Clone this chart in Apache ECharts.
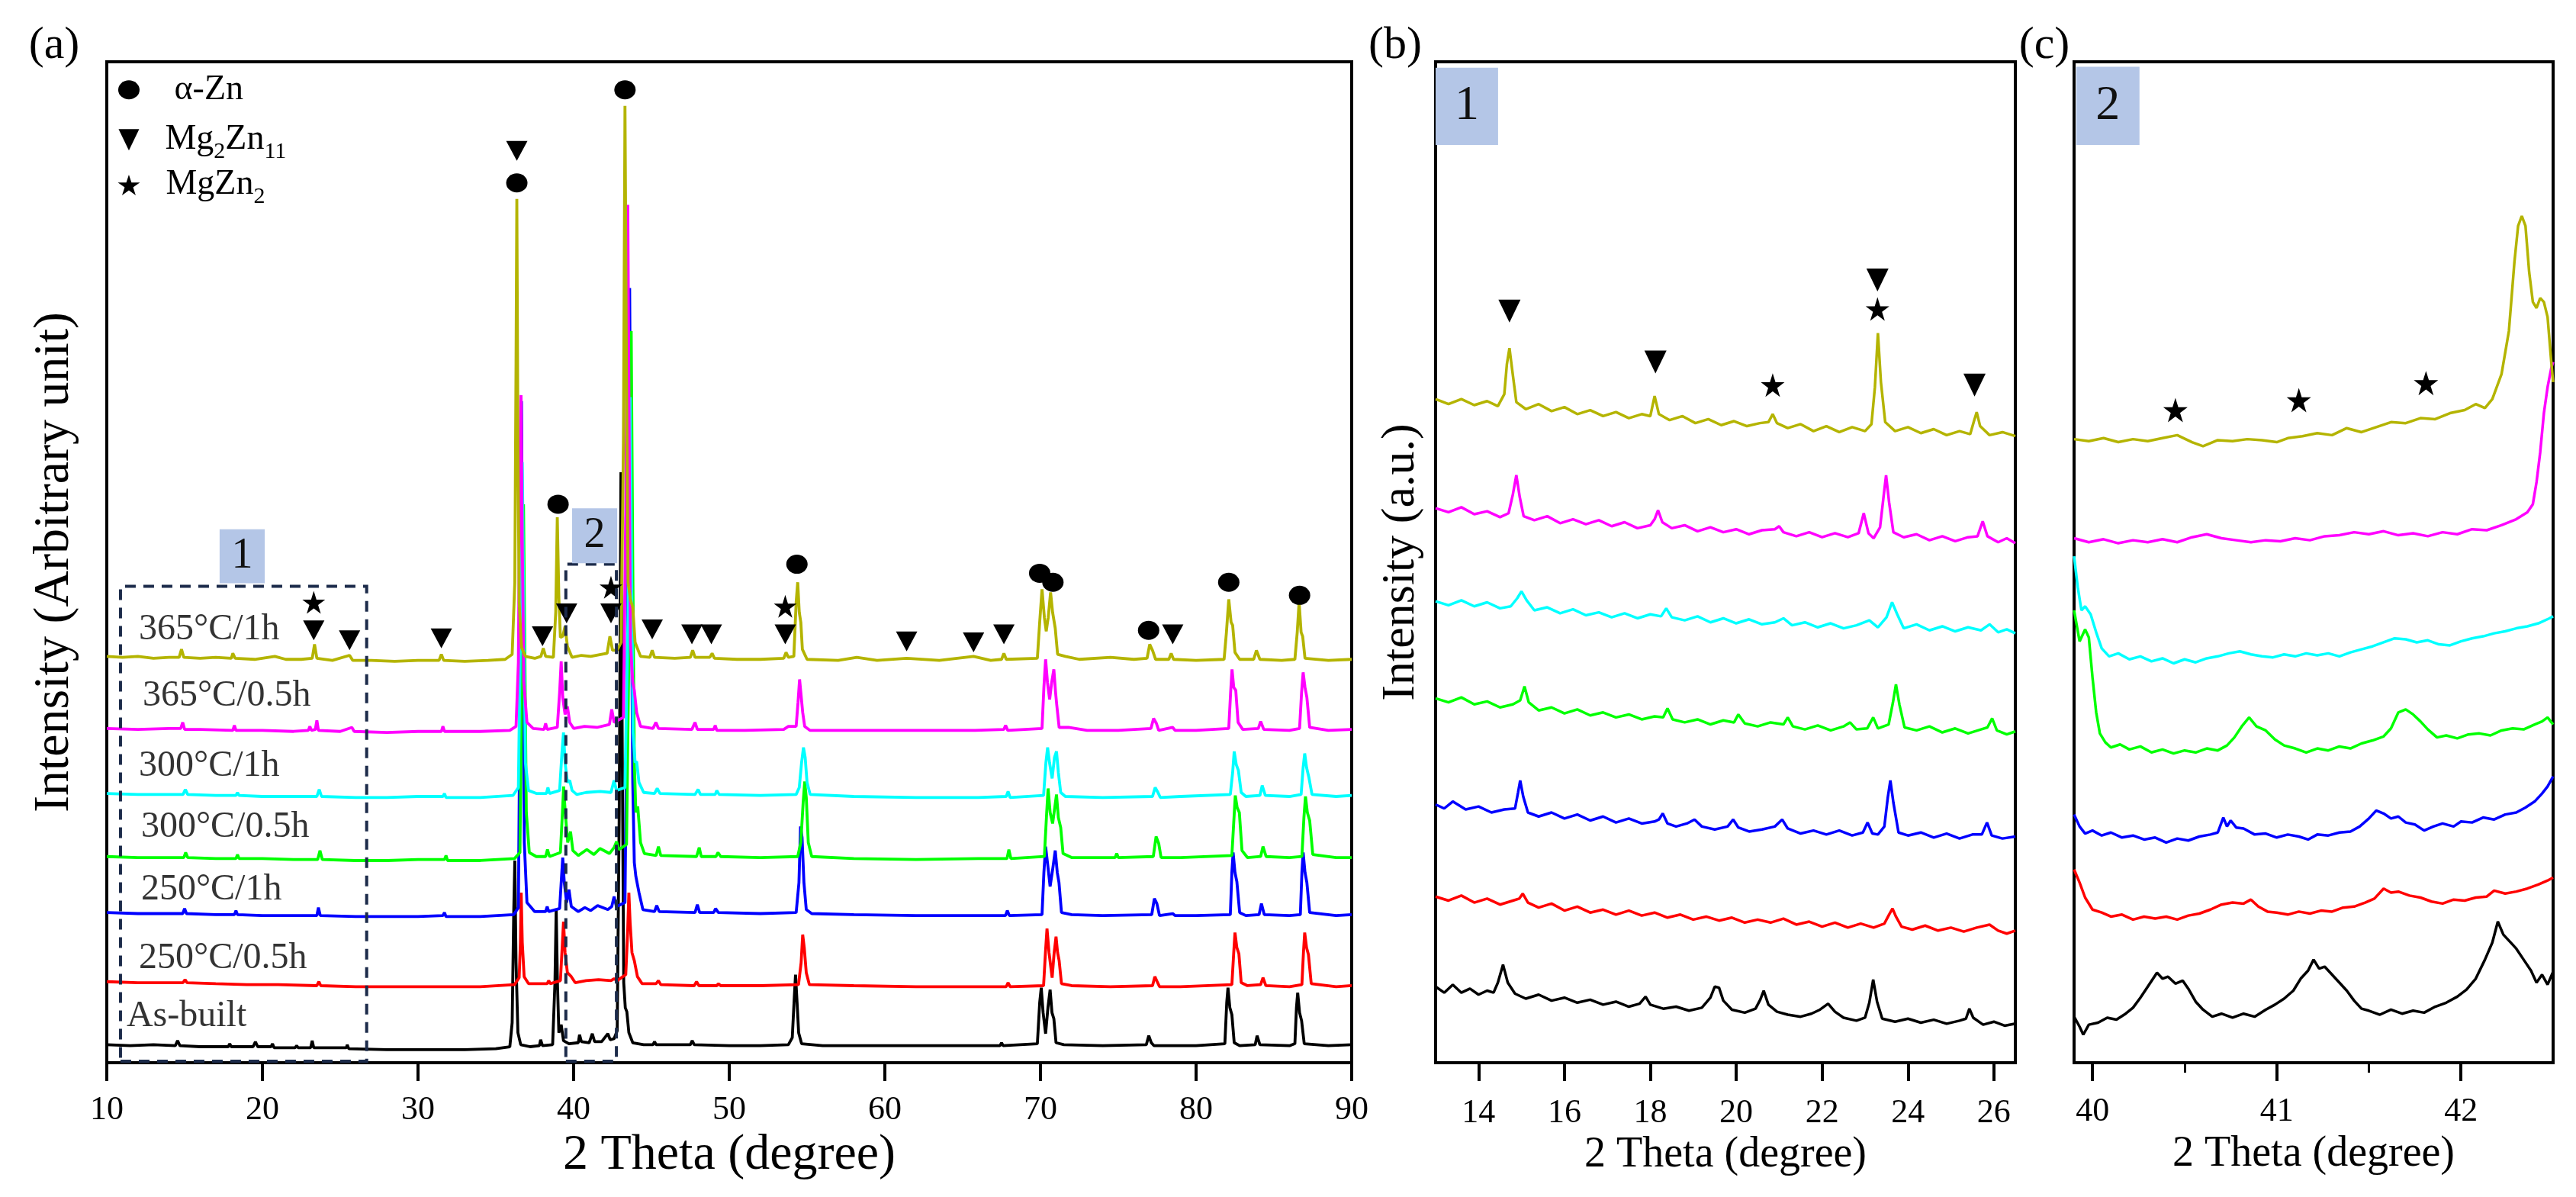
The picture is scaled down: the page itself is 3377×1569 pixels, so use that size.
<!DOCTYPE html>
<html>
<head>
<meta charset="utf-8">
<title>XRD patterns</title>
<script src="https://cdn.jsdelivr.net/npm/echarts@6.0.0/dist/echarts.min.js"></script>
<style>
html, body { margin: 0; padding: 0; background: #fff; }
#chart { width: 3377px; height: 1569px; }
</style>
</head>
<body>
<div id="chart"></div>
<script>
var FONT = '"Liberation Serif", "Times New Roman", serif';

// samples, bottom to top
var sampleNames = ['As-built', '250°C/0.5h', '250°C/1h', '300°C/0.5h', '300°C/1h', '365°C/0.5h', '365°C/1h'];
var sampleColors = ['#000000', '#ff0000', '#0000ff', '#00ff00', '#00ffff', '#ff00ff', '#b4b400'];
var sampleLabelPos = [[11.27, 4.6], [12.06, 10.4], [12.2, 17.3], [12.2, 23.5], [12.06, 29.6], [12.3, 36.6], [12.06, 43.3]];

var ticksA = [10, 20, 30, 40, 50, 60, 70, 80, 90];
var ticksB = [14, 16, 18, 20, 22, 24, 26];
var ticksC = [40, 41, 42];
var minorTicksC = [40.5, 41.5];

var phaseNames = [' α-Zn', 'Mg{s|2}Zn{s|11}', 'MgZn{s|2}'];
var legendPos = [[11.42, 97.2], [11.42, 92.2], [11.42, 87.7]];

// (a) full pattern, 2theta vs offset intensity
var blackA = [[10,1.8],[11.5,1.7],[13,1.8],[14.4,1.7],[14.55,2.2],[14.7,1.7],[16,1.6],[17.8,1.6],[17.9,1.9],[18.0,1.6],[19.4,1.6],[19.55,2.1],[19.7,1.6],[20.55,1.6],[20.65,1.9],[20.75,1.5],[22.1,1.5],[22.2,1.7],[22.3,1.5],[23.1,1.5],[23.2,2.2],[23.3,1.5],[25.4,1.5],[25.45,1.8],[25.55,1.4],[28,1.3],[31,1.3],[33,1.3],[35,1.4],[35.9,1.6],[36.05,4.0],[36.15,15.0],[36.22,20.2],[36.3,10.0],[36.42,3.0],[36.6,1.8],[37.2,1.6],[37.8,1.7],[37.88,2.3],[38.0,1.7],[38.65,1.8],[38.8,8.0],[38.88,15.4],[38.96,8.0],[39.05,3.0],[39.2,3.8],[39.35,2.2],[39.7,1.9],[40.3,2.0],[40.38,2.8],[40.5,2.1],[41.0,2.0],[41.2,2.9],[41.35,2.1],[41.8,2.1],[42.2,2.9],[42.35,2.3],[42.6,2.4],[42.8,3.2],[42.93,25.0],[43.04,59.0],[43.13,30.0],[43.22,8.0],[43.32,5.5],[43.42,5.1],[43.55,3.0],[43.8,2.0],[44.5,1.8],[45.1,1.8],[45.2,2.1],[45.3,1.8],[47.5,1.8],[47.62,2.2],[47.75,1.8],[50,1.7],[52,1.7],[53.8,1.8],[54.05,2.5],[54.18,6.5],[54.26,8.8],[54.36,6.0],[54.46,3.0],[54.65,1.9],[56,1.7],[60,1.7],[64,1.7],[67.4,1.7],[67.5,2.0],[67.6,1.7],[69.8,1.9],[69.95,6.0],[70.05,7.5],[70.17,5.0],[70.33,2.9],[70.48,5.5],[70.62,7.3],[70.74,5.0],[70.86,4.4],[71.0,2.0],[71.5,1.8],[74,1.7],[76.8,1.8],[76.96,2.7],[77.12,2.0],[77.3,1.7],[80,1.7],[81.85,1.9],[81.97,6.0],[82.05,7.5],[82.17,5.5],[82.3,4.8],[82.45,2.0],[82.8,1.7],[83.8,1.8],[83.92,2.7],[84.1,1.8],[86,1.7],[86.35,1.9],[86.45,5.5],[86.53,7.0],[86.65,5.0],[86.78,4.2],[86.95,1.9],[88.5,1.7],[90,1.8]];
var redA = [[10,8.1],[12,8.0],[14,8.0],[14.9,8.0],[15.03,8.3],[15.15,8.0],[17,7.9],[19,7.8],[21,7.8],[23.5,7.7],[23.63,8.1],[23.75,7.7],[26,7.6],[28,7.6],[30,7.6],[32,7.6],[34,7.6],[36.2,7.8],[36.5,8.5],[36.58,12.0],[36.63,17.0],[36.7,12.0],[36.82,8.6],[37.1,7.9],[38.3,7.9],[38.4,8.2],[38.5,7.9],[39.15,8.2],[39.28,12.0],[39.35,14.1],[39.45,11.0],[39.6,9.0],[39.85,8.6],[40.1,8.0],[40.8,8.2],[41.6,8.3],[42.4,8.2],[42.6,8.4],[42.8,8.2],[43.35,8.8],[43.47,13.0],[43.55,17.0],[43.63,14.0],[43.75,11.0],[43.9,10.2],[44.1,8.6],[44.4,7.9],[45.3,7.9],[45.45,8.2],[45.6,7.8],[47.75,7.7],[47.9,8.1],[48.05,7.7],[49.2,7.7],[49.3,7.9],[49.45,7.7],[52,7.7],[54.45,7.8],[54.62,10.0],[54.72,12.8],[54.82,11.5],[54.95,9.0],[55.15,7.8],[58,7.7],[62,7.6],[66,7.6],[67.8,7.6],[67.92,8.0],[68.05,7.6],[70.2,7.7],[70.32,11.0],[70.42,13.4],[70.55,11.0],[70.75,8.5],[70.88,11.0],[71.0,12.6],[71.1,11.0],[71.2,10.2],[71.35,7.9],[72,7.7],[74.5,7.6],[77.2,7.7],[77.35,8.6],[77.5,8.1],[77.65,7.6],[79,7.6],[82.3,7.8],[82.42,11.0],[82.5,13.0],[82.62,11.5],[82.75,10.9],[82.9,8.0],[83.3,7.7],[84.15,7.8],[84.3,8.5],[84.48,7.7],[86,7.6],[86.8,7.8],[86.9,11.0],[86.98,13.0],[87.1,11.5],[87.22,10.8],[87.4,7.9],[89,7.6],[90,7.7]];
var blueA = [[10,15.0],[12,14.9],[14,14.9],[14.88,14.9],[15.0,15.4],[15.12,14.9],[17,14.8],[18.2,14.8],[18.3,15.2],[18.4,14.8],[20,14.7],[22,14.7],[23.5,14.7],[23.6,15.5],[23.72,14.7],[26,14.6],[28,14.6],[30,14.6],[31.6,14.7],[31.7,15.0],[31.8,14.6],[34,14.6],[36.15,14.8],[36.45,15.5],[36.57,40.0],[36.65,66.1],[36.73,45.0],[36.83,22.0],[37.0,16.0],[37.5,15.1],[38.2,15.1],[38.3,15.6],[38.4,15.1],[39.1,15.4],[39.22,18.5],[39.3,20.5],[39.4,18.0],[39.55,16.0],[39.7,17.3],[39.85,15.6],[40.3,15.1],[40.72,15.5],[41.1,15.2],[41.54,15.7],[42.2,15.3],[42.45,15.6],[42.6,16.6],[42.75,15.6],[43.3,16.0],[43.48,45.0],[43.6,77.4],[43.7,50.0],[43.8,28.0],[43.9,20.0],[44.0,18.6],[44.2,17.0],[44.45,15.3],[45.2,15.1],[45.34,15.7],[45.5,15.1],[47.8,15.0],[47.95,15.8],[48.1,15.0],[49.0,15.0],[49.12,15.4],[49.3,15.0],[52,14.9],[54.3,15.0],[54.48,18.0],[54.58,23.6],[54.68,22.5],[54.8,18.0],[54.95,15.3],[55.3,14.9],[58,14.8],[62,14.7],[66,14.7],[67.75,14.7],[67.87,15.2],[68.0,14.7],[70.1,14.8],[70.22,19.0],[70.33,21.6],[70.45,20.0],[70.62,17.6],[70.8,19.5],[70.95,21.2],[71.08,19.0],[71.19,18.0],[71.35,15.0],[72,14.8],[74,14.7],[77.15,14.8],[77.32,16.4],[77.48,15.9],[77.65,14.7],[78.5,14.9],[78.65,14.7],[80,14.7],[82.2,14.8],[82.3,19.0],[82.38,21.0],[82.5,19.0],[82.62,18.1],[82.8,15.0],[83.2,14.7],[84.05,14.8],[84.2,15.9],[84.38,14.8],[86,14.7],[86.7,14.8],[86.8,19.0],[86.88,21.0],[87.0,19.0],[87.12,18.0],[87.3,15.0],[89,14.7],[90,14.8]];
var greenA = [[10,20.6],[12,20.5],[14,20.5],[14.95,20.5],[15.07,21.0],[15.2,20.5],[17,20.4],[18.3,20.4],[18.4,20.8],[18.5,20.4],[20,20.4],[22,20.3],[23.55,20.3],[23.7,21.2],[23.85,20.3],[26,20.2],[28,20.2],[30,20.3],[31.7,20.3],[31.8,20.7],[31.9,20.2],[34,20.2],[36.2,20.4],[36.55,21.0],[36.68,40.0],[36.78,55.8],[36.86,42.0],[36.96,25.0],[37.15,21.0],[37.6,20.6],[38.2,20.6],[38.32,21.3],[38.45,20.6],[39.15,21.0],[39.28,25.0],[39.36,27.6],[39.46,25.0],[39.62,22.0],[39.8,23.1],[39.95,21.2],[40.3,20.7],[40.85,21.3],[41.3,20.8],[41.7,21.4],[42.3,20.9],[42.6,21.5],[42.76,22.1],[42.9,21.3],[43.4,21.8],[43.58,45.0],[43.7,73.1],[43.8,50.0],[43.9,30.0],[44.0,25.0],[44.12,25.6],[44.3,22.0],[44.55,20.9],[45.3,20.7],[45.45,21.6],[45.6,20.7],[47.9,20.6],[48.07,21.5],[48.2,20.6],[49.15,20.6],[49.28,21.0],[49.45,20.6],[52,20.5],[54.4,20.6],[54.6,22.0],[54.75,26.0],[54.85,28.1],[54.95,26.5],[55.08,22.0],[55.3,20.6],[58,20.4],[62,20.3],[66,20.4],[67.85,20.4],[67.97,21.3],[68.1,20.4],[70.25,20.6],[70.4,25.0],[70.49,27.4],[70.62,25.0],[70.78,23.9],[70.92,25.5],[71.03,26.8],[71.15,24.5],[71.3,23.5],[71.45,20.9],[72,20.5],[74.8,20.5],[74.9,20.9],[75.0,20.5],[77.25,20.6],[77.43,22.6],[77.6,21.9],[77.75,20.5],[79,20.5],[82.3,20.7],[82.42,24.0],[82.52,26.7],[82.64,25.5],[82.78,25.0],[82.95,21.2],[83.3,20.5],[84.15,20.6],[84.3,21.6],[84.5,20.6],[86,20.5],[86.8,20.6],[86.93,24.5],[87.03,26.6],[87.15,25.0],[87.3,24.2],[87.5,20.8],[89,20.5],[90,20.5]];
var cyanA = [[10,26.9],[12,26.8],[14,26.8],[14.9,26.8],[15.05,27.3],[15.2,26.8],[17,26.7],[18.3,26.7],[18.4,27.0],[18.5,26.7],[20,26.6],[22,26.6],[23.5,26.6],[23.65,27.3],[23.8,26.6],[26,26.5],[28,26.5],[30,26.6],[31.6,26.6],[31.7,26.9],[31.8,26.5],[34,26.5],[36.1,26.7],[36.45,27.5],[36.6,45.0],[36.7,60.0],[36.78,48.0],[36.9,30.0],[37.1,27.2],[37.6,26.9],[38.25,26.9],[38.35,27.5],[38.45,26.9],[39.1,27.2],[39.25,31.0],[39.35,33.0],[39.45,30.0],[39.6,28.0],[39.75,28.2],[39.9,27.2],[40.2,26.8],[40.8,27.0],[41.7,27.1],[42.4,27.0],[42.6,28.2],[42.75,27.2],[43.3,27.5],[43.5,45.0],[43.63,66.5],[43.72,50.0],[43.82,33.0],[43.95,30.0],[44.05,30.1],[44.2,28.0],[44.5,27.0],[45.2,26.9],[45.37,27.4],[45.55,26.9],[47.8,26.8],[48.0,27.3],[48.15,26.8],[49.1,26.8],[49.2,27.2],[49.35,26.8],[52,26.7],[54.3,26.8],[54.5,27.5],[54.65,30.0],[54.77,31.5],[54.88,30.5],[55.0,28.0],[55.2,26.8],[58,26.6],[62,26.5],[66,26.5],[67.8,26.6],[67.92,27.1],[68.05,26.5],[70.2,26.7],[70.35,30.0],[70.46,31.5],[70.58,30.0],[70.75,28.4],[70.9,30.5],[71.03,31.1],[71.15,29.0],[71.3,27.0],[71.6,26.6],[74,26.5],[77.2,26.6],[77.37,27.5],[77.55,27.0],[77.7,26.5],[79,26.6],[82.2,26.8],[82.35,29.0],[82.45,31.1],[82.58,29.8],[82.72,29.2],[82.9,27.0],[83.2,26.6],[84.1,26.7],[84.25,27.7],[84.45,26.7],[86,26.6],[86.75,26.8],[86.88,29.5],[86.98,30.9],[87.1,29.5],[87.25,28.5],[87.45,26.8],[89,26.6],[90,26.7]];
var magentaA = [[10,33.4],[12,33.3],[14,33.4],[14.75,33.4],[14.88,34.0],[15.0,33.3],[16,33.3],[18.1,33.2],[18.2,33.7],[18.3,33.2],[20,33.2],[22,33.1],[22.95,33.2],[23.05,33.6],[23.15,33.2],[23.4,33.3],[23.5,34.2],[23.6,33.2],[25,33.1],[25.75,33.5],[25.9,33.1],[28,33.0],[30,33.1],[31.5,33.1],[31.6,33.6],[31.7,33.1],[34,33.1],[35.9,33.2],[36.3,33.6],[36.45,40.0],[36.55,60.0],[36.62,66.7],[36.7,52.0],[36.8,38.0],[37.0,34.0],[37.4,33.4],[38.1,33.3],[38.2,33.9],[38.3,33.3],[38.95,33.5],[39.1,37.0],[39.2,40.1],[39.3,36.5],[39.45,34.8],[39.6,35.6],[39.75,34.0],[40.0,33.4],[40.7,33.6],[41.5,33.5],[42.3,33.8],[42.45,35.3],[42.6,34.0],[43.2,34.5],[43.35,55.0],[43.48,85.7],[43.56,65.0],[43.65,42.0],[43.8,38.0],[43.9,37.2],[44.05,35.0],[44.3,33.6],[45.1,33.4],[45.29,34.0],[45.45,33.4],[47.6,33.3],[47.8,34.0],[47.95,33.3],[49.0,33.3],[49.1,33.7],[49.2,33.2],[51,33.2],[53.5,33.3],[53.8,33.6],[54.3,33.6],[54.42,36.0],[54.52,38.3],[54.6,37.0],[54.72,35.0],[54.85,33.6],[55.2,33.2],[58,33.2],[61.5,33.2],[65.8,33.2],[67.65,33.3],[67.76,33.7],[67.9,33.2],[70.1,33.4],[70.22,37.5],[70.33,40.3],[70.45,38.0],[70.59,36.3],[70.72,38.0],[70.86,39.3],[70.97,37.0],[71.05,35.7],[71.2,33.5],[71.8,33.5],[73,33.2],[75,33.2],[77.1,33.4],[77.27,34.4],[77.45,33.9],[77.6,33.2],[78.5,33.5],[78.65,33.2],[80,33.2],[82.1,33.4],[82.22,37.0],[82.31,39.3],[82.42,37.5],[82.55,37.2],[82.7,34.0],[83.0,33.3],[84.0,33.4],[84.15,34.1],[84.35,33.3],[86,33.2],[86.65,33.4],[86.78,37.0],[86.88,39.0],[87.0,37.5],[87.12,36.5],[87.3,33.5],[88.5,33.2],[90,33.3]];
var yellowA = [[10,40.6],[11,40.5],[12,40.6],[13,40.4],[14,40.5],[14.65,40.5],[14.8,41.3],[14.95,40.5],[16,40.4],[17,40.5],[18,40.4],[18.1,40.9],[18.25,40.4],[19.5,40.3],[20.8,40.6],[21.5,40.3],[22.5,40.3],[23.2,40.4],[23.35,41.8],[23.5,40.4],[24.5,40.2],[25.6,40.7],[25.8,40.2],[27,40.2],[28.5,40.1],[30,40.2],[31.35,40.2],[31.5,40.8],[31.65,40.2],[33,40.1],[34.5,40.2],[35.6,40.3],[36.05,40.8],[36.22,48.0],[36.3,70.0],[36.35,86.3],[36.42,62.0],[36.5,46.0],[36.65,41.5],[36.9,40.6],[37.5,40.4],[37.9,40.6],[38.05,41.4],[38.2,40.6],[38.7,40.5],[38.85,45.0],[38.95,54.5],[39.05,46.5],[39.15,42.5],[39.3,42.6],[39.45,43.6],[39.6,41.6],[39.9,40.5],[40.5,40.7],[41.1,40.6],[41.8,40.8],[42.15,40.9],[42.33,42.6],[42.5,41.2],[42.8,41.2],[43.05,42.0],[43.2,62.0],[43.3,95.6],[43.4,68.0],[43.5,48.0],[43.65,46.3],[43.8,45.5],[43.95,42.0],[44.3,40.6],[44.9,40.5],[45.05,41.2],[45.2,40.5],[46.5,40.4],[47.5,40.5],[47.65,41.2],[47.8,40.5],[48.75,40.5],[48.9,40.9],[49.05,40.4],[50.5,40.3],[52,40.3],[53.5,40.4],[53.65,41.0],[53.8,40.5],[54.15,40.6],[54.3,46.0],[54.4,48.0],[54.5,45.0],[54.6,44.0],[54.7,41.3],[55.0,40.3],[57,40.2],[58.2,40.5],[59.5,40.2],[61.4,40.4],[63.5,40.2],[65.7,40.6],[66.8,40.2],[67.5,40.3],[67.65,40.9],[67.8,40.3],[69.8,40.4],[69.95,44.0],[70.1,47.3],[70.25,44.5],[70.37,43.1],[70.5,44.5],[70.65,47.0],[70.78,45.0],[70.95,43.4],[71.1,40.8],[71.6,40.6],[72.5,40.3],[74.5,40.5],[76,40.3],[76.85,40.4],[77.02,41.8],[77.2,41.2],[77.4,40.3],[78.25,40.3],[78.4,40.9],[78.55,40.3],[80,40.2],[81.8,40.3],[81.95,43.0],[82.1,46.3],[82.25,44.0],[82.35,43.7],[82.5,41.0],[82.8,40.3],[83.7,40.3],[83.88,41.2],[84.1,40.3],[85.5,40.2],[86.35,40.3],[86.5,43.0],[86.62,46.0],[86.75,43.0],[86.85,42.6],[87.0,40.4],[88.5,40.2],[90,40.3]];

// (b) zoom 13-26.5 deg
var blackB = [[13.0,7.6],[13.2,7.0],[13.4,7.8],[13.6,7.0],[13.8,7.4],[14.0,6.8],[14.2,7.2],[14.35,7.0],[14.45,8.0],[14.57,9.8],[14.68,8.0],[14.85,6.9],[15.1,6.4],[15.4,6.8],[15.7,6.2],[16.0,6.5],[16.3,6.0],[16.6,6.3],[16.9,5.8],[17.2,6.1],[17.5,5.6],[17.75,5.9],[17.89,6.6],[18.0,5.8],[18.3,5.4],[18.6,5.6],[18.9,5.2],[19.2,5.5],[19.4,6.5],[19.5,7.6],[19.6,7.5],[19.7,6.2],[19.9,5.3],[20.2,5.0],[20.45,5.4],[20.56,6.3],[20.64,7.2],[20.75,5.8],[20.95,5.1],[21.2,4.8],[21.5,4.6],[21.75,4.9],[21.95,5.3],[22.14,5.9],[22.3,5.1],[22.5,4.5],[22.8,4.2],[23.0,4.5],[23.1,6.0],[23.19,8.3],[23.28,6.1],[23.4,4.4],[23.7,4.1],[24.0,4.4],[24.3,4.0],[24.6,4.3],[24.9,3.9],[25.2,4.2],[25.35,4.4],[25.43,5.4],[25.52,4.5],[25.75,3.8],[26.0,4.1],[26.25,3.7],[26.5,3.9]];
var redB = [[13.0,16.6],[13.3,16.2],[13.6,16.7],[13.9,16.0],[14.2,16.4],[14.5,15.8],[14.8,16.2],[14.95,16.4],[15.03,16.9],[15.15,16.0],[15.4,15.5],[15.7,15.9],[16.0,15.2],[16.3,15.6],[16.6,15.0],[16.9,15.3],[17.2,14.8],[17.5,15.2],[17.8,14.7],[18.1,15.0],[18.4,14.5],[18.7,14.8],[19.0,14.3],[19.3,14.6],[19.6,14.2],[19.9,14.5],[20.2,14.0],[20.5,14.3],[20.8,14.0],[21.1,14.4],[21.4,13.8],[21.7,14.1],[22.0,13.6],[22.3,14.0],[22.6,13.5],[22.9,13.9],[23.2,13.5],[23.45,13.9],[23.56,14.8],[23.64,15.4],[23.72,14.6],[23.85,13.6],[24.1,13.3],[24.4,13.7],[24.7,13.2],[25.0,13.5],[25.3,13.1],[25.6,13.5],[25.9,13.8],[26.1,13.2],[26.3,12.9],[26.5,13.2]];
var blueB = [[13.0,25.8],[13.2,25.4],[13.4,26.1],[13.7,25.3],[14.0,25.6],[14.3,25.0],[14.6,25.3],[14.85,25.4],[14.92,27.0],[14.97,28.2],[15.04,26.6],[15.15,25.0],[15.4,24.6],[15.7,25.0],[16.0,24.4],[16.3,24.8],[16.6,24.2],[16.9,24.6],[17.2,24.0],[17.5,24.4],[17.8,23.9],[18.1,24.1],[18.2,24.3],[18.29,24.9],[18.4,23.9],[18.6,23.6],[18.85,23.9],[19.03,24.3],[19.2,23.6],[19.5,23.3],[19.8,23.6],[19.93,24.3],[20.05,23.5],[20.3,23.1],[20.6,23.3],[20.9,23.6],[21.07,24.3],[21.2,23.4],[21.5,22.9],[21.8,23.2],[22.1,22.8],[22.4,23.2],[22.7,22.7],[22.95,23.0],[23.06,24.0],[23.17,22.9],[23.3,22.8],[23.45,23.6],[23.53,26.5],[23.59,28.2],[23.66,26.0],[23.78,23.0],[24.0,22.7],[24.3,23.0],[24.6,22.5],[24.9,22.9],[25.2,22.4],[25.5,22.8],[25.72,22.8],[25.84,24.0],[25.95,22.7],[26.2,22.4],[26.5,22.6]];
var greenB = [[13.0,36.4],[13.3,36.0],[13.6,36.5],[13.9,35.8],[14.2,36.1],[14.5,35.5],[14.8,35.8],[14.97,36.2],[15.07,37.6],[15.17,36.0],[15.4,35.2],[15.7,35.5],[16.0,34.9],[16.3,35.3],[16.6,34.7],[16.9,35.0],[17.2,34.5],[17.5,34.8],[17.8,34.3],[18.1,34.6],[18.3,34.5],[18.4,35.4],[18.52,34.3],[18.8,34.0],[19.1,34.3],[19.4,33.8],[19.7,34.2],[19.95,34.0],[20.05,34.8],[20.2,33.9],[20.5,33.6],[20.8,34.0],[21.1,33.8],[21.2,34.5],[21.32,33.6],[21.6,33.3],[21.9,33.7],[22.2,33.2],[22.5,33.6],[22.65,34.0],[22.8,33.3],[23.05,33.4],[23.19,34.5],[23.3,33.4],[23.55,33.8],[23.65,36.0],[23.72,37.8],[23.8,35.8],[23.92,33.5],[24.2,33.2],[24.5,33.6],[24.8,33.0],[25.1,33.4],[25.4,32.9],[25.7,33.3],[25.85,33.5],[25.96,34.4],[26.07,33.2],[26.3,32.8],[26.5,33.1]];
var cyanB = [[13.0,46.1],[13.3,45.7],[13.6,46.2],[13.9,45.6],[14.2,46.0],[14.5,45.4],[14.75,45.6],[14.9,46.4],[15.0,47.1],[15.12,46.2],[15.3,45.2],[15.6,45.5],[15.9,44.9],[16.2,45.3],[16.5,44.7],[16.8,45.0],[17.1,44.5],[17.4,44.9],[17.7,44.4],[18.0,44.8],[18.25,44.6],[18.37,45.4],[18.5,44.5],[18.8,44.2],[19.1,44.6],[19.4,44.0],[19.7,44.4],[20.0,43.9],[20.3,44.3],[20.6,43.8],[20.9,44.0],[21.1,44.4],[21.3,43.7],[21.6,44.0],[21.9,43.5],[22.2,43.9],[22.5,43.4],[22.8,43.7],[23.1,44.2],[23.3,43.5],[23.5,44.5],[23.63,46.0],[23.75,44.8],[23.9,43.4],[24.2,43.8],[24.5,43.2],[24.8,43.6],[25.1,43.1],[25.4,43.5],[25.7,43.2],[25.9,43.8],[26.1,43.0],[26.3,43.3],[26.5,42.9]];
var magentaB = [[13.0,55.4],[13.3,55.0],[13.6,55.5],[13.9,54.8],[14.2,55.1],[14.5,54.5],[14.7,54.9],[14.8,56.8],[14.88,58.7],[14.96,56.5],[15.05,54.6],[15.3,54.2],[15.6,54.6],[15.9,53.9],[16.2,54.3],[16.5,53.8],[16.8,54.2],[17.1,53.6],[17.4,54.0],[17.7,53.4],[18.0,53.7],[18.1,54.3],[18.18,55.2],[18.28,54.0],[18.5,53.4],[18.8,53.7],[19.1,53.1],[19.4,53.5],[19.7,53.0],[20.0,53.3],[20.3,52.8],[20.6,53.2],[20.9,53.3],[21.0,53.6],[21.1,53.0],[21.4,52.6],[21.7,53.0],[22.0,52.5],[22.3,52.9],[22.6,52.5],[22.85,52.9],[22.97,54.9],[23.08,52.9],[23.2,52.4],[23.35,53.5],[23.43,56.5],[23.49,58.7],[23.56,56.0],[23.66,53.0],[23.9,52.5],[24.2,52.8],[24.5,52.2],[24.8,52.6],[25.1,52.1],[25.4,52.5],[25.62,52.6],[25.74,54.1],[25.85,52.6],[26.1,52.0],[26.3,52.4],[26.5,51.9]];
var yellowB = [[13.0,66.3],[13.3,65.8],[13.6,66.3],[13.9,65.7],[14.2,66.1],[14.45,65.6],[14.6,66.8],[14.66,69.8],[14.72,71.4],[14.79,69.0],[14.88,66.0],[15.1,65.3],[15.4,65.8],[15.7,65.1],[16.0,65.5],[16.3,64.8],[16.6,65.2],[16.9,64.6],[17.2,65.0],[17.5,64.4],[17.8,64.8],[18.0,64.6],[18.1,66.6],[18.2,64.8],[18.45,64.2],[18.75,64.6],[19.05,63.9],[19.35,64.3],[19.65,63.7],[19.95,64.1],[20.25,63.6],[20.55,63.9],[20.75,64.0],[20.85,64.8],[20.95,63.9],[21.2,63.4],[21.5,63.8],[21.8,63.1],[22.1,63.6],[22.4,63.0],[22.7,63.5],[23.0,63.1],[23.15,63.8],[23.23,67.5],[23.3,72.9],[23.37,68.0],[23.47,64.0],[23.7,63.1],[24.0,63.5],[24.3,62.9],[24.6,63.3],[24.9,62.7],[25.2,63.1],[25.45,62.8],[25.53,64.0],[25.6,65.0],[25.68,63.6],[25.9,62.7],[26.2,63.0],[26.5,62.6]];

// (c) zoom 39.9-42.5 deg
var blackC = [[39.9,4.6],[39.93,3.6],[39.95,2.8],[39.98,3.8],[40.03,4.0],[40.08,4.5],[40.13,4.3],[40.18,4.9],[40.22,5.5],[40.26,6.5],[40.3,7.6],[40.35,9.0],[40.38,8.4],[40.41,8.6],[40.45,7.9],[40.49,8.2],[40.52,7.4],[40.56,6.1],[40.6,5.3],[40.65,4.6],[40.7,4.9],[40.76,4.5],[40.82,4.9],[40.88,4.6],[40.94,5.3],[40.99,5.8],[41.04,6.4],[41.09,7.2],[41.13,8.4],[41.17,9.2],[41.2,10.3],[41.23,9.4],[41.26,9.6],[41.3,8.8],[41.34,8.0],[41.38,7.2],[41.42,6.2],[41.46,5.4],[41.5,5.2],[41.56,4.8],[41.62,5.3],[41.68,4.9],[41.74,5.2],[41.8,5.0],[41.86,5.6],[41.92,6.0],[41.98,6.6],[42.03,7.3],[42.08,8.4],[42.13,10.3],[42.17,12.0],[42.2,14.1],[42.23,12.8],[42.26,12.2],[42.3,11.4],[42.34,10.3],[42.38,9.2],[42.41,8.0],[42.44,8.8],[42.47,7.8],[42.5,9.1]];
var redC = [[39.9,19.3],[39.93,18.0],[39.96,16.5],[40.0,15.3],[40.05,15.0],[40.1,14.6],[40.16,14.8],[40.22,14.3],[40.28,14.6],[40.34,14.4],[40.4,14.6],[40.46,14.3],[40.52,14.7],[40.58,14.9],[40.64,15.3],[40.7,15.8],[40.76,16.0],[40.82,15.9],[40.86,16.3],[40.9,15.6],[40.95,15.1],[41.0,15.0],[41.06,14.8],[41.12,15.1],[41.18,14.9],[41.24,15.2],[41.3,15.1],[41.36,15.5],[41.42,15.6],[41.48,16.0],[41.53,16.4],[41.58,17.4],[41.62,17.0],[41.66,17.1],[41.72,16.7],[41.78,16.5],[41.84,16.1],[41.9,15.9],[41.96,16.3],[42.02,16.2],[42.08,16.5],[42.14,16.6],[42.18,17.2],[42.24,16.9],[42.3,17.1],[42.36,17.4],[42.42,17.8],[42.47,18.2],[42.5,18.5]];
var blueC = [[39.9,24.8],[39.93,23.6],[39.96,22.9],[40.0,23.2],[40.05,22.7],[40.1,23.0],[40.16,22.5],[40.22,22.7],[40.28,22.3],[40.34,22.5],[40.4,22.0],[40.46,22.4],[40.52,22.2],[40.58,22.6],[40.64,22.8],[40.68,23.0],[40.71,24.5],[40.73,23.6],[40.75,24.2],[40.78,23.5],[40.82,23.4],[40.88,22.8],[40.94,22.9],[41.0,22.5],[41.06,22.8],[41.12,22.6],[41.17,22.3],[41.22,22.8],[41.28,22.7],[41.34,23.0],[41.4,23.1],[41.45,23.6],[41.5,24.4],[41.54,25.2],[41.58,24.9],[41.62,24.4],[41.66,24.6],[41.7,24.0],[41.75,23.8],[41.8,23.2],[41.85,23.6],[41.9,23.9],[41.96,23.6],[42.0,24.1],[42.06,24.0],[42.12,24.5],[42.18,24.3],[42.24,24.8],[42.3,25.0],[42.35,25.5],[42.4,26.1],[42.44,26.9],[42.47,27.6],[42.5,28.6]];
var greenC = [[39.9,45.2],[39.93,42.1],[39.96,43.3],[39.98,42.5],[40.0,38.5],[40.02,35.0],[40.04,32.9],[40.07,32.0],[40.1,31.5],[40.15,31.8],[40.2,31.3],[40.26,31.6],[40.32,31.0],[40.38,31.3],[40.44,30.9],[40.5,31.2],[40.56,31.0],[40.62,31.4],[40.68,31.2],[40.73,31.7],[40.77,32.5],[40.81,33.6],[40.85,34.5],[40.89,33.6],[40.94,33.2],[40.99,32.3],[41.04,31.7],[41.1,31.4],[41.16,31.0],[41.22,31.4],[41.28,31.2],[41.34,31.6],[41.4,31.4],[41.46,31.9],[41.52,32.2],[41.58,32.6],[41.62,33.4],[41.66,35.0],[41.7,35.3],[41.74,34.8],[41.78,34.1],[41.82,33.3],[41.87,32.5],[41.92,32.7],[41.98,32.4],[42.04,32.8],[42.1,32.9],[42.16,32.7],[42.22,33.2],[42.28,33.4],[42.34,33.3],[42.4,33.8],[42.44,34.1],[42.47,34.5],[42.5,33.8]];
var cyanC = [[39.9,50.6],[39.92,47.5],[39.94,45.2],[39.96,45.6],[39.99,44.8],[40.02,43.0],[40.05,41.4],[40.09,40.6],[40.14,40.9],[40.2,40.3],[40.26,40.6],[40.32,40.1],[40.38,40.4],[40.44,39.9],[40.5,40.3],[40.56,40.0],[40.62,40.4],[40.68,40.6],[40.74,40.9],[40.8,41.1],[40.86,40.8],[40.92,40.6],[40.98,40.5],[41.04,40.8],[41.1,40.6],[41.16,40.9],[41.22,40.7],[41.28,40.9],[41.34,40.6],[41.4,41.0],[41.46,41.3],[41.52,41.6],[41.58,42.0],[41.64,42.4],[41.7,42.3],[41.76,42.0],[41.82,42.2],[41.88,41.8],[41.94,41.7],[42.0,42.1],[42.06,42.4],[42.12,42.6],[42.18,42.9],[42.24,43.1],[42.3,43.4],[42.36,43.6],[42.42,43.9],[42.48,44.4],[42.5,44.6]];
var magentaC = [[39.9,52.4],[39.98,52.0],[40.06,52.3],[40.14,51.9],[40.22,52.2],[40.3,52.0],[40.38,52.3],[40.46,52.0],[40.54,52.5],[40.62,52.8],[40.7,52.4],[40.78,52.2],[40.86,52.0],[40.94,52.2],[41.02,52.1],[41.1,52.4],[41.18,52.2],[41.26,52.6],[41.34,52.7],[41.42,53.0],[41.5,52.8],[41.58,53.1],[41.66,52.7],[41.74,52.9],[41.82,52.6],[41.9,53.0],[41.98,52.8],[42.06,53.3],[42.14,53.2],[42.22,53.7],[42.3,54.3],[42.36,55.0],[42.39,55.8],[42.41,58.0],[42.43,61.0],[42.45,64.9],[42.47,67.5],[42.49,69.4],[42.5,70.0]];
var yellowC = [[39.9,62.3],[39.98,62.1],[40.06,62.4],[40.14,62.0],[40.22,62.3],[40.3,62.1],[40.38,62.4],[40.46,62.7],[40.54,62.0],[40.6,61.6],[40.68,62.2],[40.76,62.1],[40.84,62.3],[40.92,62.2],[41.0,62.0],[41.06,62.4],[41.14,62.6],[41.22,62.9],[41.3,62.7],[41.38,63.4],[41.46,63.0],[41.54,63.5],[41.62,64.0],[41.7,63.9],[41.78,64.4],[41.86,64.3],[41.94,64.9],[42.02,65.2],[42.08,65.8],[42.13,65.4],[42.17,66.3],[42.22,68.8],[42.26,73.1],[42.29,80.0],[42.31,83.6],[42.33,84.6],[42.35,83.6],[42.37,79.0],[42.39,76.0],[42.41,75.4],[42.43,76.4],[42.45,76.0],[42.47,74.5],[42.49,70.0],[42.5,68.0]];

// phase markers [2theta, height]
var znMarksA = [[36.35,87.9],[39.0,55.8],[43.3,97.2],[54.35,49.8],[69.95,48.9],[70.8,48.0],[76.95,43.2],[82.1,48.0],[86.65,46.7]];
var mg2zn11MarksA = [[23.3,43.2],[25.6,42.2],[31.5,42.4],[36.35,91.1],[38.0,42.6],[39.55,44.9],[42.4,44.9],[45.05,43.3],[47.6,42.8],[48.85,42.8],[53.6,42.8],[61.4,42.1],[65.7,42.0],[67.65,42.8],[78.5,42.8]];
var mgzn2MarksA = [[23.3,46.0],[42.4,47.5],[53.6,45.6]];
var mg2zn11MarksB = [[14.72,75.1],[18.12,70.0],[23.29,78.2],[25.55,67.7]];
var mgzn2MarksB = [[20.85,67.7],[23.29,75.3]];
var mgzn2MarksC = [[40.45,65.2],[41.12,66.2],[41.81,67.9]];

// zoom windows drawn in (a), and their tags
var zoomBoxes = [[[10.88, 0.15], [26.7, 47.6]], [[39.5, 0.15], [42.75, 49.8]]];
var zoomTagsA = [['1', [17.25, 47.9], [20.15, 53.3]], ['2', [39.9, 49.9], [42.8, 55.4]]];
var zoomTagB = ['1', [13.0, 91.7], [14.455, 99.4]];
var zoomTagC = ['2', [39.912, 91.7], [40.255, 99.5]];

var chartDom = document.getElementById('chart');
var myChart = echarts.init(chartDom);
var option;

var STAR = 'path://M50,0L61.2,34.5L97.6,34.5L68.2,55.9L79.4,90.5L50,69.1L20.6,90.5L31.8,55.9L2.4,34.5L38.8,34.5Z';
var TAG_BLUE = '#b4c6e7';

function xAxisBase(grid, min, max) {
  return {
    type: 'value', gridIndex: grid, min: min, max: max, position: 'bottom',
    splitLine: { show: false },
    axisLine: { show: true, onZero: false, lineStyle: { color: '#000', width: 4 } },
    axisTick: { show: true, inside: false, length: 24, lineStyle: { color: '#000', width: 4 } },
    axisLabel: { color: '#000', fontSize: 44, fontFamily: FONT, margin: 40 },
    nameLocation: 'middle',
    nameTextStyle: { color: '#000', fontFamily: FONT }
  };
}
function yAxisBase(grid) {
  return {
    type: 'value', gridIndex: grid, min: 0, max: 100, position: 'left',
    splitLine: { show: false },
    axisLine: { show: true, lineStyle: { color: '#000', width: 4 } },
    axisTick: { show: false }, axisLabel: { show: false },
    nameLocation: 'middle',
    nameTextStyle: { color: '#000', fontFamily: FONT }
  };
}
function lineSeries(data, color, axis, width) {
  return {
    type: 'line', xAxisIndex: axis, yAxisIndex: axis, data: data,
    showSymbol: false, symbol: 'none', silent: true, z: 2,
    lineStyle: { color: color, width: width }
  };
}
function markSeries(data, axis, symbol, size, rotate) {
  return {
    type: 'scatter', xAxisIndex: axis, yAxisIndex: axis, data: data,
    symbol: symbol, symbolSize: size, symbolRotate: rotate || 0, silent: true, z: 6,
    itemStyle: { color: '#000', opacity: 1 }
  };
}
function tagArea(tag) {
  return [{ coord: tag[1], name: tag[0] }, { coord: tag[2] }];
}

var xA = xAxisBase(0, 10, 90);
xA.interval = 10;
xA.name = '2 Theta (degree)';
xA.nameGap = 78;
xA.nameTextStyle.fontSize = 66;

var xB = xAxisBase(1, 13, 26.5);
xB.axisTick.customValues = ticksB;
xB.axisLabel.customValues = ticksB;
xB.axisLabel.margin = 44;
xB.name = '2 Theta (degree)';
xB.nameGap = 92;
xB.nameTextStyle.fontSize = 56;

var xC = xAxisBase(2, 39.9, 42.5);
xC.axisTick.customValues = ticksC;
xC.axisLabel.customValues = ticksC;
xC.axisLabel.margin = 42;
xC.name = '2 Theta (degree)';
xC.nameGap = 92;
xC.nameTextStyle.fontSize = 56;

// minor ticks of (c), same grid, same scale
var xCminor = xAxisBase(2, 39.9, 42.5);
xCminor.axisLine = { show: false, onZero: false };
xCminor.axisLabel = { show: false };
xCminor.axisTick = { show: true, inside: false, length: 13, customValues: minorTicksC, lineStyle: { color: '#000', width: 3 } };

var yA = yAxisBase(0);
yA.name = 'Intensity (Arbitrary unit)';
yA.nameGap = 35;
yA.nameTextStyle.fontSize = 66;
var yB = yAxisBase(1);
yB.name = 'Intensity (a.u.)';
yB.nameGap = 14;
yB.nameTextStyle.fontSize = 62;
var yC = yAxisBase(2);

var seriesA = [blackA, redA, blueA, greenA, cyanA, magentaA, yellowA];
var seriesB = [blackB, redB, blueB, greenB, cyanB, magentaB, yellowB];
var seriesC = [blackC, redC, blueC, greenC, cyanC, magentaC, yellowC];

var series = [];
seriesA.forEach(function (d, i) { series.push(lineSeries(d, sampleColors[i], 0, 3.8)); });
seriesB.forEach(function (d, i) { series.push(lineSeries(d, sampleColors[i], 1, 3.5)); });
seriesC.forEach(function (d, i) { series.push(lineSeries(d, sampleColors[i], 2, 3.5)); });

// phase markers
series.push(markSeries(znMarksA, 0, 'circle', [28, 25]));
series.push(markSeries(mg2zn11MarksA, 0, 'triangle', [28, 26], 180));
series.push(markSeries(mgzn2MarksA, 0, STAR, 30));
series.push(markSeries(mg2zn11MarksB, 1, 'triangle', [29, 30], 180));
series.push(markSeries(mgzn2MarksB, 1, STAR, 31));
series.push(markSeries(mgzn2MarksC, 2, STAR, 32));

// legend of phases in (a)
var legendSymbols = ['circle', 'triangle', STAR];
var legendSizes = [[28, 25], [27, 28], [29, 27]];
legendPos.forEach(function (p, i) {
  var s = markSeries([p], 0, legendSymbols[i], legendSizes[i], i === 1 ? 180 : 0);
  s.label = {
    show: true, position: 'right', distance: 34, color: '#000',
    fontSize: 46, fontFamily: FONT, formatter: phaseNames[i],
    rich: { s: { fontSize: 30, fontFamily: FONT, color: '#000', padding: [32, 0, 0, 0] } }
  };
  series.push(s);
});

// sample labels in (a)
series.push({
  type: 'scatter', xAxisIndex: 0, yAxisIndex: 0, data: sampleLabelPos,
  symbolSize: 0, silent: true, z: 7,
  label: {
    show: true, position: 'right', distance: 0, color: '#000',
    fontSize: 48, fontFamily: FONT,
    formatter: function (p) { return sampleNames[p.dataIndex]; }
  }
});

// zoom windows and tags
series.push({
  type: 'scatter', xAxisIndex: 0, yAxisIndex: 0, data: [], silent: true, z: 8,
  markArea: {
    silent: true, z: 8,
    itemStyle: { color: 'rgba(0,0,0,0)', borderColor: '#1c2b4a', borderWidth: 4, borderType: [14, 10] },
    label: { show: false },
    data: zoomBoxes.map(function (b) { return [{ coord: b[0] }, { coord: b[1] }]; })
  }
});
series.push({
  type: 'scatter', xAxisIndex: 0, yAxisIndex: 0, data: [], silent: true, z: 8,
  markArea: {
    silent: true, z: 8,
    itemStyle: { color: TAG_BLUE, borderWidth: 0 },
    label: { show: true, position: 'inside', color: '#111', fontSize: 56, fontFamily: FONT },
    data: zoomTagsA.map(tagArea)
  }
});
series.push({
  type: 'scatter', xAxisIndex: 1, yAxisIndex: 1, data: [], silent: true, z: 8,
  markArea: {
    silent: true, z: 8,
    itemStyle: { color: TAG_BLUE, borderWidth: 0 },
    label: { show: true, position: 'inside', color: '#111', fontSize: 64, fontFamily: FONT },
    data: [tagArea(zoomTagB)]
  }
});
series.push({
  type: 'scatter', xAxisIndex: 2, yAxisIndex: 2, data: [], silent: true, z: 8,
  markArea: {
    silent: true, z: 8,
    itemStyle: { color: TAG_BLUE, borderWidth: 0 },
    label: { show: true, position: 'inside', color: '#111', fontSize: 64, fontFamily: FONT },
    data: [tagArea(zoomTagC)]
  }
});
// empty series on the minor-tick axis so it is laid out
series.push({ type: 'line', xAxisIndex: 3, yAxisIndex: 2, data: [], silent: true });

var gridStyle = { show: true, borderColor: '#000', borderWidth: 4, backgroundColor: 'rgba(0,0,0,0)' };
option = {
  backgroundColor: '#fff',
  animation: false,
  textStyle: { fontFamily: FONT },
  grid: [
    Object.assign({ left: 140, top: 81, width: 1632, height: 1312 }, gridStyle),
    Object.assign({ left: 1882, top: 81, width: 760, height: 1312 }, gridStyle),
    Object.assign({ left: 2719, top: 81, width: 628, height: 1312 }, gridStyle)
  ],
  xAxis: [xA, xB, xC, xCminor],
  yAxis: [yA, yB, yC],
  graphic: [
    { type: 'text', x: 71, y: 60, style: { text: '(a)', fontSize: 60, fontFamily: FONT, fill: '#000', align: 'center', verticalAlign: 'middle' } },
    { type: 'text', x: 1829, y: 60, style: { text: '(b)', fontSize: 60, fontFamily: FONT, fill: '#000', align: 'center', verticalAlign: 'middle' } },
    { type: 'text', x: 2680, y: 60, style: { text: '(c)', fontSize: 60, fontFamily: FONT, fill: '#000', align: 'center', verticalAlign: 'middle' } }
  ],
  series: series
};

option && myChart.setOption(option);
</script>
</body>
</html>
